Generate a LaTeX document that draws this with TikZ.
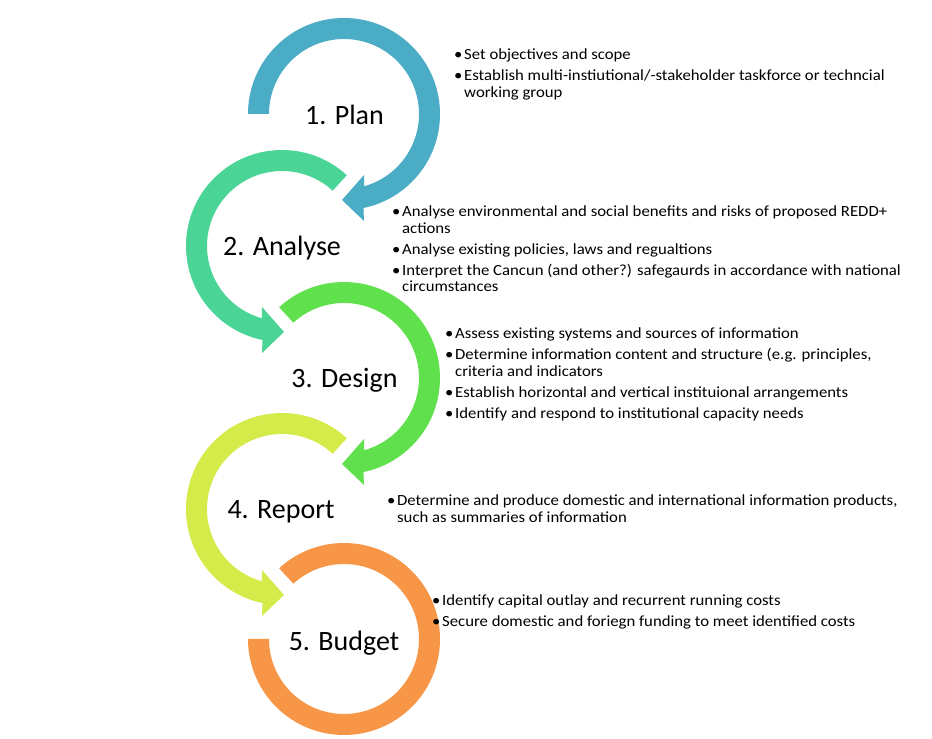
\documentclass[tikz,border=0pt]{standalone}
\usepackage{fontspec}
\setmainfont{Carlito}
\newfontfamily\bfont[FakeStretch=1.08]{Carlito}
\definecolor{cPlan}{HTML}{4BACC6}
\definecolor{cAnalyse}{HTML}{4AD596}
\definecolor{cDesign}{HTML}{60E04C}
\definecolor{cReport}{HTML}{D5EB4A}
\definecolor{cBudget}{HTML}{F79646}
\newcommand{\bl}{\makebox[10pt][l]{•}}
\tikzset{
  title/.style={font=\fontsize{28}{32}\selectfont, anchor=base, inner sep=0pt},
  bullets/.style={font=\bfont\fontsize{15.5}{16.5}\selectfont, anchor=base west, inner sep=0pt},
  cyc/.pic={\fill[pic actions] (#1:75) -- (#1:96) arc[start angle=#1, end angle=-78.3, radius=96]
      -- (20,-107) -- (-2,-86) -- (20,-61) -- (-74.5:75)
      arc[start angle=-74.5, end angle=#1, radius=75] -- cycle;},
  ring/.pic={\fill[pic actions] (132.5:75) -- (132.5:96) arc[start angle=132.5, end angle=-180, radius=96]
      -- (-180:75) arc[start angle=-180, end angle=132.5, radius=75] -- cycle;}
}
\begin{document}
\begin{tikzpicture}[x=1pt,y=1pt]
\fill[white] (0,0) rectangle (932,739);
\useasboundingbox (0,0) rectangle (932,739);
% arrows
\pic[fill=cPlan] at (344,625) {cyc=180};
\pic[fill=cAnalyse, xscale=-1] at (282,493) {cyc=132.5};
\pic[fill=cDesign] at (344,361) {cyc=132.5};
\pic[fill=cReport, xscale=-1] at (282,230) {cyc=132.5};
\pic[fill=cBudget] at (344,100) {ring};
% titles
\node[title] (t1) at (344.5,614) {1. Plan};
\node[title] (t2) at (282,483) {2. Analyse};
\node[title] (t3) at (344.5,351) {3. Design};
\node[title] (t4) at (281,220) {4. Report};
\node[title] (t5) at (344,88) {5. Budget};
% bullet blocks
\node[bullets] (b1) at (454,679) {\begin{tabular}[t]{@{}l@{}l@{}}
\bl & Set objectives and scope\\[4.5pt]
\bl & Establish multi-instiutional/-stakeholder taskforce or techncial\\
 & working group
\end{tabular}};
\node[bullets] (b2) at (392,522) {\begin{tabular}[t]{@{}l@{}l@{}}
\bl & Analyse environmental and social benefits and risks of proposed REDD+\\
 & actions\\[4.5pt]
\bl & Analyse existing policies, laws and regualtions\\[4.5pt]
\bl & Interpret the Cancun (and other?) safegaurds in accordance with national\\
 & circumstances
\end{tabular}};
\node[bullets] (b3) at (445,400) {\begin{tabular}[t]{@{}l@{}l@{}}
\bl & Assess existing systems and sources of information\\[4.5pt]
\bl & Determine information content and structure (e.g. principles,\\
 & criteria and indicators\\[4.5pt]
\bl & Establish horizontal and vertical instituional arrangements\\[4.5pt]
\bl & Identify and respond to institutional capacity needs
\end{tabular}};
\node[bullets] (b4) at (387,233) {\begin{tabular}[t]{@{}l@{}l@{}}
\bl & Determine and produce domestic and international information products,\\
 & such as summaries of information
\end{tabular}};
\node[bullets] (b5) at (432,133) {\begin{tabular}[t]{@{}l@{}l@{}}
\bl & Identify capital outlay and recurrent running costs\\[4.5pt]
\bl & Secure domestic and foriegn funding to meet identified costs
\end{tabular}};
\end{tikzpicture}
\end{document}
